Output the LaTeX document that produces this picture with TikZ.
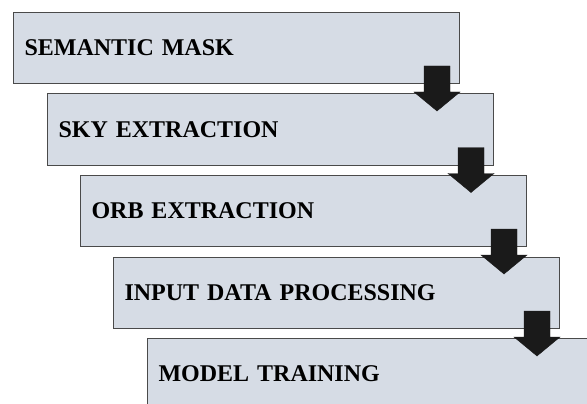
\documentclass[tikz,border=0pt]{standalone}
\usepackage{fontspec}
\setmainfont{Liberation Serif}
\definecolor{boxfill}{HTML}{D6DCE5}
\definecolor{boxline}{HTML}{4A4A4A}
\definecolor{arrowfill}{HTML}{1A1A1A}
\begin{document}
\begin{tikzpicture}[x=1pt,y=-1pt,
  stepbox/.style={draw=boxline, line width=1pt, fill=boxfill, anchor=north west,
    minimum width=446pt, minimum height=71pt, text width=424pt, inner xsep=11pt,
    align=left, font=\fontsize{24}{28}\selectfont\bfseries},
  blockarrow/.style={fill=arrowfill, draw=arrowfill, line width=0.4pt}]
\useasboundingbox (0,0) rectangle (587,404);
\begin{scope}
\clip (0,0) rectangle (587,404);
% staircase of process steps
\node[stepbox] (b1) at (13,12)  {SEMANTIC MASK};
\node[stepbox] (b2) at (47,93.5)  {SKY EXTRACTION};
\node[stepbox] (b3) at (80,175)  {ORB EXTRACTION};
\node[stepbox] (b4) at (113,257) {INPUT DATA PROCESSING};
\node[stepbox] (b5) at (147,338) {MODEL TRAINING};
% block arrows hanging from the lower right corner of each step
\foreach \src in {b1,b2,b3,b4}{
  \draw[blockarrow, shift={(\src.south east)}]
    (-36,-18) -- (-10,-18) -- (-10,8) -- (0,8) -- (-23,27) -- (-46,8) -- (-36,8) -- cycle;
}
\end{scope}
\end{tikzpicture}
\end{document}
